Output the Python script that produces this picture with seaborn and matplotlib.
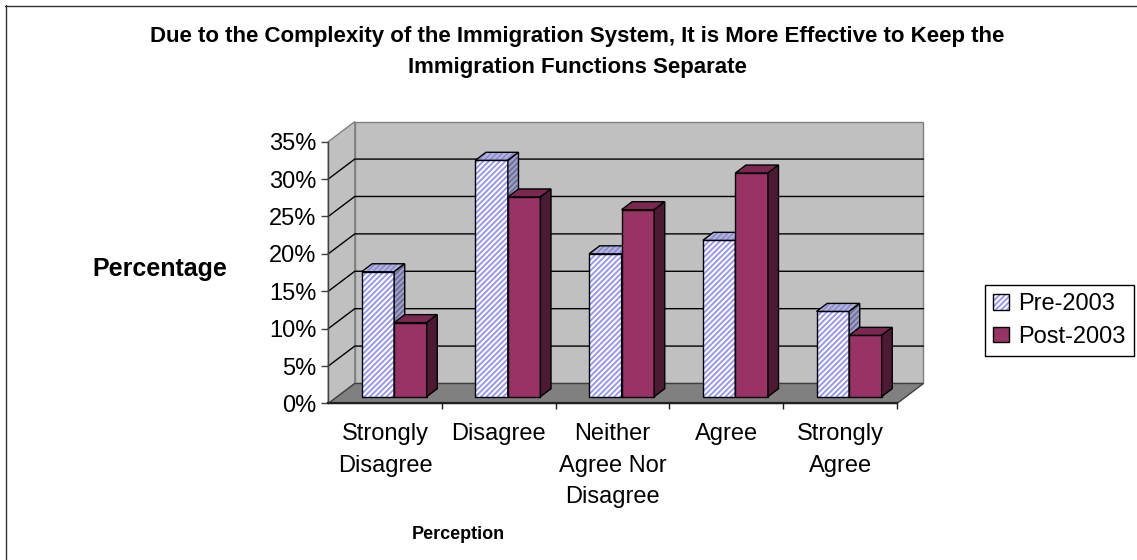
import matplotlib
matplotlib.use("Agg")
import matplotlib.pyplot as plt
import pandas as pd
import seaborn as sns
from matplotlib.patches import Polygon, Rectangle, Patch
from matplotlib.legend_handler import HandlerTuple
from matplotlib.lines import Line2D

# ---- data -------------------------------------------------------------
categories = ["Strongly\nDisagree", "Disagree", "Neither\nAgree Nor\nDisagree",
              "Agree", "Strongly\nAgree"]
series_names = ["Pre-2003", "Post-2003"]
pre_2003 = [16.7, 31.6, 19.1, 20.9, 11.4]
post_2003 = [9.9, 26.7, 25.0, 29.9, 8.2]
y_ticks = [0, 5, 10, 15, 20, 25, 30, 35]
title = ("Due to the Complexity of the Immigration System, It is More Effective to Keep the\n"
         "Immigration Functions Separate")
x_title = "Perception"
y_title = "Percentage"

# ---- style ------------------------------------------------------------
sns.set_theme(style="white")
plt.rcParams["font.family"] = ["Liberation Sans", "DejaVu Sans"]
plt.rcParams["hatch.linewidth"] = 1.35
for key in ("text.color", "axes.labelcolor", "xtick.color", "ytick.color"):
    plt.rcParams[key] = "black"

HATCH = "//////"
PRE_HATCH = "#9595ff"
POST = "#993366"
POST_TOP = "#7a2850"
POST_SIDE = "#4c1a32"
PRE_TOP_FC, PRE_TOP_HC = "#b8b8d0", "#8a8ae0"
PRE_SIDE_FC, PRE_SIDE_HC = "#70728f", "#a2a2d6"
WALL = "#c0c0c0"
FLOOR = "#808080"
EDGE = "#808080"

df = pd.DataFrame({
    "Perception": categories * 2,
    "Percent": pre_2003 + post_2003,
    "Period": [series_names[0]] * len(categories) + [series_names[1]] * len(categories),
})

fig = plt.figure(figsize=(11.37, 5.6), dpi=100)
ax = fig.add_axes([0.2887, 0.2795, 0.5002, 0.4675])
ax.set_facecolor("none")

sns.barplot(data=df, x="Perception", y="Percent", hue="Period",
            order=categories, hue_order=series_names,
            palette={series_names[0]: "white", series_names[1]: POST},
            saturation=1, width=0.572, gap=0, errorbar=None, legend=False, ax=ax)

X0, X1 = -0.5, len(categories) - 0.5
Y0, Y1 = y_ticks[0], y_ticks[-1]
ax.set_xlim(X0, X1)
ax.set_ylim(Y0, Y1)

# oblique depth vector (full depth of the floor), in data units
DX, DY = 0.233, 2.674
F1, F2 = 0.34, 0.74          # front / back of the bars as depth fractions


def poly(verts, fc, z, hatch_color=None, ec="black", lw=1.0):
    if hatch_color is not None:
        ax.add_patch(Polygon(verts, closed=True, facecolor=fc, edgecolor=hatch_color,
                             hatch=HATCH, linewidth=0, zorder=z, clip_on=False))
        ax.add_patch(Polygon(verts, closed=True, fill=False, edgecolor=ec,
                             linewidth=lw, zorder=z, clip_on=False))
    else:
        ax.add_patch(Polygon(verts, closed=True, facecolor=fc, edgecolor=ec,
                             linewidth=lw, zorder=z, clip_on=False))


# ---- walls and floor --------------------------------------------------
poly([(X0 + DX, Y0 + DY), (X1 + DX, Y0 + DY), (X1 + DX, Y1 + DY), (X0 + DX, Y1 + DY)],
     WALL, 0.2, ec=EDGE)
poly([(X0, Y0), (X0 + DX, Y0 + DY), (X0 + DX, Y1 + DY), (X0, Y1)], WALL, 0.2, ec=EDGE)
for y in y_ticks[1:-1]:
    ax.add_line(Line2D([X0, X0 + DX, X1 + DX], [y, y + DY, y + DY],
                       color="black", linewidth=1.0, zorder=0.3, clip_on=False))
poly([(X0, Y0), (X1, Y0), (X1 + DX, Y0 + DY), (X0 + DX, Y0 + DY)], FLOOR, 0.4, ec="#404040")

# ---- 3-D bars built from the seaborn rectangles ------------------------
styles = [
    dict(z=3, hatch=PRE_HATCH, top=(PRE_TOP_FC, PRE_TOP_HC), side=(PRE_SIDE_FC, PRE_SIDE_HC)),
    dict(z=4, hatch=None, top=(POST_TOP, None), side=(POST_SIDE, None)),
]
ddx, ddy = (F2 - F1) * DX, (F2 - F1) * DY
for container, st in zip(ax.containers, styles):
    for rect in container:
        x = rect.get_x() + F1 * DX
        y = F1 * DY
        w, h = rect.get_width(), rect.get_height()
        rect.set_x(x)
        rect.set_y(y)
        rect.set_zorder(st["z"])
        rect.set_clip_on(False)
        if st["hatch"]:
            rect.set_facecolor("white")
            rect.set_edgecolor(st["hatch"])
            rect.set_hatch(HATCH)
            rect.set_linewidth(0)
            ax.add_patch(Rectangle((x, y), w, h, fill=False, edgecolor="black",
                                   linewidth=1.0, zorder=st["z"], clip_on=False))
        else:
            rect.set_edgecolor("black")
            rect.set_linewidth(1.0)
        xt, yt = x + w, y + h
        poly([(x, yt), (xt, yt), (xt + ddx, yt + ddy), (x + ddx, yt + ddy)],
             st["top"][0], st["z"], hatch_color=st["top"][1])
        poly([(xt, y), (xt, yt), (xt + ddx, yt + ddy), (xt + ddx, y + ddy)],
             st["side"][0], st["z"], hatch_color=st["side"][1])

# ---- axes -------------------------------------------------------------
for s in ("top", "right"):
    ax.spines[s].set_visible(False)
ax.spines["left"].set_color("#404040")
ax.spines["left"].set_linewidth(1.0)
ax.spines["bottom"].set_color("#202020")
ax.spines["bottom"].set_linewidth(1.6)
ax.spines["left"].set_zorder(5)
ax.spines["bottom"].set_zorder(5)

ax.set_yticks(y_ticks)
ax.set_yticklabels([f"{v}%" for v in y_ticks])
ax.tick_params(axis="y", which="major", left=True, direction="out", length=5,
               width=1, color="#404040", labelsize=17, pad=3.5, labelcolor="black")

ax.set_xticks(range(len(categories)))
ax.set_xticklabels(categories)
ax.set_xticks([i + 0.5 for i in range(len(categories))], minor=True)
ax.tick_params(axis="x", which="major", length=0, labelsize=17, pad=14, labelcolor="black")
ax.tick_params(axis="x", which="minor", bottom=True, direction="out", length=4.5,
               width=1, color="#202020")
for lab in ax.get_xticklabels():
    lab.set_linespacing(1.57)
    lab.set_verticalalignment("top")

ax.set_xlabel(x_title, fontsize=13, fontweight="bold", color="black")
ax.xaxis.set_label_coords(0.229, -0.468)
ax.set_ylabel(y_title, fontsize=18, fontweight="bold", color="black",
              rotation=0, ha="center", va="center")
ax.yaxis.set_label_coords(-0.297, 0.515)

fig.text(577 / 1137, 1 - 26 / 560, title, ha="center", va="top", fontsize=16,
         fontweight="bold", linespacing=1.6, color="black")

# ---- legend -----------------------------------------------------------
pre_fill = Patch(facecolor="white", edgecolor=PRE_HATCH, hatch=HATCH, linewidth=0)
pre_edge = Patch(facecolor="none", edgecolor="black", linewidth=1)
post_box = Patch(facecolor=POST, edgecolor="black", linewidth=1)
leg = fig.legend(handles=[(pre_fill, pre_edge), post_box], labels=series_names,
                 handler_map={tuple: HandlerTuple(ndivide=1, pad=0)},
                 loc="upper left", bbox_to_anchor=(985 / 1137, 1 - 285 / 560),
                 bbox_transform=fig.transFigure, frameon=True, fancybox=False,
                 shadow=False, edgecolor="black", framealpha=1, fontsize=17,
                 handlelength=0.65, handleheight=0.65, handletextpad=0.4,
                 borderpad=0.35, labelspacing=0.45, borderaxespad=0)
leg.get_frame().set_linewidth(1.0)

# ---- chart border -----------------------------------------------------
fig.add_artist(Line2D([5.5 / 1137, 5.5 / 1137], [0, 1 - 5 / 560],
                      transform=fig.transFigure, color="#333333", linewidth=1.0))
fig.add_artist(Line2D([5 / 1137, 1], [1 - 5.5 / 560, 1 - 5.5 / 560],
                      transform=fig.transFigure, color="#333333", linewidth=1.0))

fig.savefig("out.png", dpi=100)
